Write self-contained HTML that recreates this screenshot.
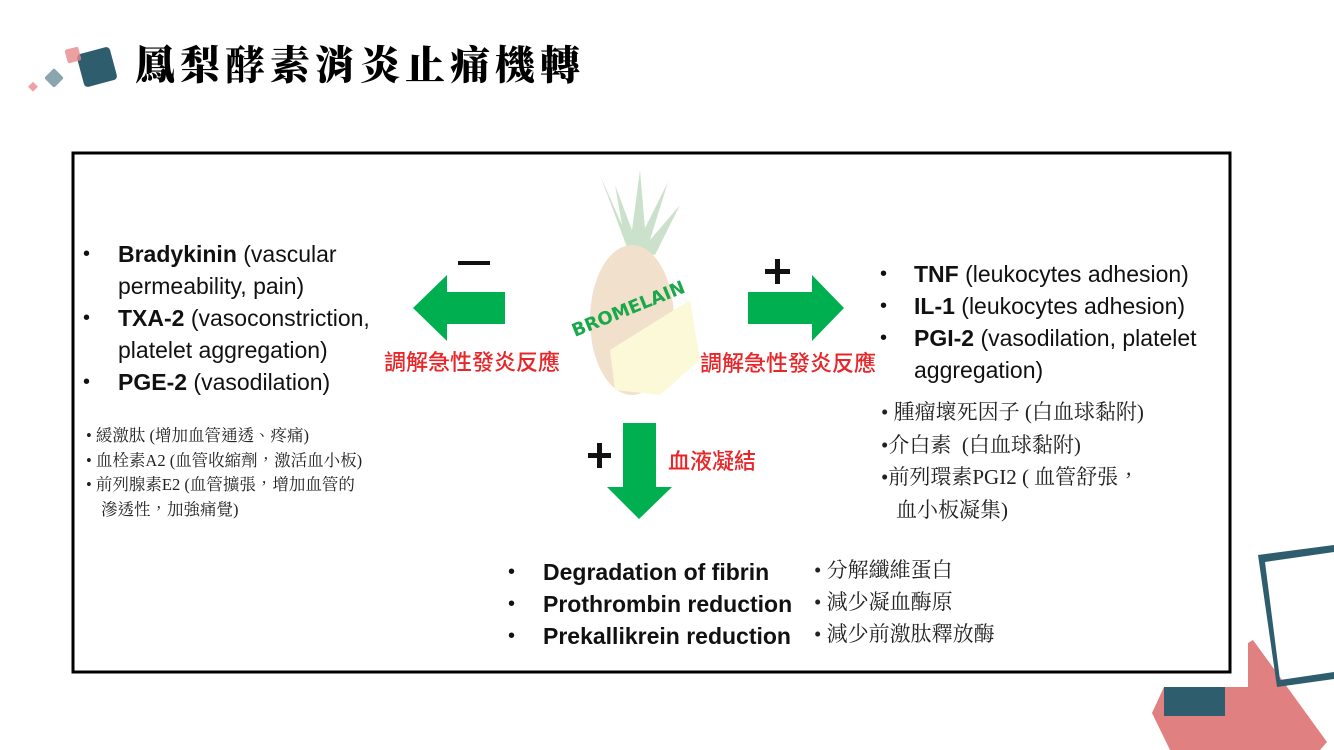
<!DOCTYPE html>
<html><head><meta charset="utf-8"><style>
body{margin:0;width:1334px;height:750px;background:#fff;position:relative;overflow:hidden;font-family:"Liberation Sans","Noto Sans CJK TC",sans-serif}
.a{position:absolute;white-space:nowrap}
.en{font-family:"Liberation Sans",sans-serif;font-size:23px;color:#111;line-height:32px}
.cn{font-family:"Liberation Serif","Noto Serif CJK TC",serif;color:#222}
.red{color:#e8262a;font-family:"Noto Sans CJK TC",sans-serif;font-size:22px;font-weight:500}
.b{position:absolute;font-size:20px}
</style></head><body>
<svg class="a" style="left:0;top:0" width="1334" height="750">
<rect x="80" y="50" width="34" height="34" rx="4" fill="#2e5e6e" transform="rotate(-15 97 67)"/>
<rect x="66" y="48" width="14" height="14" rx="2" fill="#e8888b" opacity="0.8" transform="rotate(-15 73 55)"/>
<rect x="47" y="71" width="14" height="14" rx="2" fill="#8aa5ae" transform="rotate(45 54 78)"/>
<rect x="30" y="83" width="7" height="7" fill="#f0a0a3" transform="rotate(45 33 86)"/>
<rect x="73" y="153" width="1157" height="519" fill="none" stroke="#000" stroke-width="3"/>
<g opacity="0.25">
<path d="M628 250 L600 175 L622 225 L615 185 L632 230 L640 170 L645 228 L668 182 L650 240 L680 205 L655 255 Z" fill="#3a8a3a"/>
<ellipse cx="632" cy="320" rx="42" ry="75" fill="#c8863a"/>
<path d="M610 350 L690 300 L700 360 L660 395 L615 390 Z" fill="#f4e86a"/>
</g>
<text x="628" y="315" transform="rotate(-22 628 308)" text-anchor="middle" font-family="DejaVu Sans" font-weight="bold" font-size="18" fill="#1aa84a">BROMELAIN</text>
<polygon points="413,308 447,275 447,292 505,292 505,324 447,324 447,341" fill="#00b050"/>
<polygon points="844,308 812,275 812,292 748,292 748,324 812,324 812,341" fill="#00b050"/>
<polygon points="639,519 607,487 623,487 623,423 656,423 656,487 672,487" fill="#00b050"/>
<rect x="458" y="261" width="32" height="4" fill="#111"/>
<rect x="765" y="269" width="25" height="5" fill="#111"/><rect x="775" y="259" width="5" height="25" fill="#111"/>
<rect x="588" y="453" width="23" height="5" fill="#111"/><rect x="597" y="443" width="5" height="25" fill="#111"/>
<polygon points="1152,713 1164,687 1248,687 1248,643 1253,640 1327,742 1320,750 1170,750" fill="#e08080"/>
<rect x="1164" y="687" width="61" height="29" fill="#2e5e6e"/>
<polygon points="1258,555 1334,545 1334,552 1265,562 1280,680 1334,672 1334,679 1277,687" fill="#2e5e6e"/>
</svg>
<div class="a" style="left:135px;top:34px;font-family:'Noto Serif CJK TC','Noto Serif CJK SC',serif;font-weight:900;font-size:40px;letter-spacing:5px;color:#000">鳳梨酵素消炎止痛機轉</div>

<div class="a en" style="left:83px;top:238px">
<span class="b" style="left:0;top:0">•</span><span class="b" style="left:0;top:64px">•</span><span class="b" style="left:0;top:128px">•</span>
<div style="padding-left:35px">
<div><b>Bradykinin</b> (vascular</div>
<div>permeability, pain)</div>
<div><b>TXA-2</b> (vasoconstriction,</div>
<div>platelet aggregation)</div>
<div><b>PGE-2</b> (vasodilation)</div>
</div></div>
<div class="a cn" style="left:86px;top:424px;font-size:16.5px;line-height:24.5px">
<div>• 緩激肽 (增加血管通透、疼痛)</div>
<div>• 血栓素A2 (血管收縮劑，激活血小板)</div>
<div>• 前列腺素E2 (血管擴張，增加血管的</div>
<div style="padding-left:15px">滲透性，加強痛覺)</div>
</div>

<div class="a en" style="left:880px;top:258px">
<span class="b" style="left:0;top:0">•</span><span class="b" style="left:0;top:32px">•</span><span class="b" style="left:0;top:64px">•</span>
<div style="padding-left:34px">
<div><b>TNF</b> (leukocytes adhesion)</div>
<div><b>IL-1</b> (leukocytes adhesion)</div>
<div><b>PGI-2</b> (vasodilation, platelet</div>
<div>aggregation)</div>
</div></div>
<div class="a cn" style="left:881px;top:396px;font-size:21px;line-height:32.5px">
<div>•&nbsp;腫瘤壞死因子 (白血球黏附)</div>
<div>•介白素&nbsp; (白血球黏附)</div>
<div>•前列環素PGI2 ( 血管舒張，</div>
<div style="padding-left:15px">血小板凝集)</div>
</div>

<div class="a red" style="left:384px;top:345px">調解急性發炎反應</div>
<div class="a red" style="left:700px;top:346px">調解急性發炎反應</div>
<div class="a red" style="left:668px;top:444px">血液凝結</div>

<div class="a en" style="left:508px;top:556px">
<span class="b" style="left:0;top:0">•</span><span class="b" style="left:0;top:32px">•</span><span class="b" style="left:0;top:64px">•</span>
<div style="padding-left:35px;font-weight:bold">
<div>Degradation of fibrin</div>
<div>Prothrombin reduction</div>
<div>Prekallikrein reduction</div>
</div></div>
<div class="a cn" style="left:814px;top:554px;font-size:21px;line-height:32px">
<div>• 分解纖維蛋白</div>
<div>• 減少凝血酶原</div>
<div>• 減少前激肽釋放酶</div>
</div>
</body></html>
